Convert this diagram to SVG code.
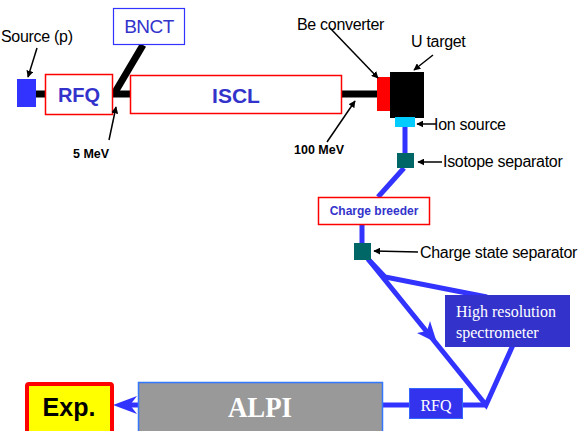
<svg xmlns="http://www.w3.org/2000/svg" width="583" height="431" viewBox="0 0 583 431">
<style>
.lbl{font-family:"Liberation Sans",Arial,sans-serif;font-size:16px;fill:#000;letter-spacing:-0.3px}
.mev{font-family:"Liberation Sans",Arial,sans-serif;font-size:12.5px;font-weight:bold;fill:#000}
.bt{font-family:"Liberation Sans",Arial,sans-serif;font-weight:bold;fill:#3333cc;text-anchor:middle}
.st{font-family:"Liberation Serif","Times New Roman",serif;fill:#fff}
.redbox{fill:#fff;stroke:#ff0000;stroke-width:1.5}
.beam{stroke:#000;stroke-width:7;fill:none}
.bl{stroke:#3333ff;stroke-width:5;fill:none;stroke-linejoin:miter}
.bah{fill:#3333ff}
.ptr{stroke:#000;stroke-width:1.5;fill:none;marker-end:url(#ah)}
.sep{fill:#006666}
</style>
<defs>
<marker id="ah" viewBox="0 0 10 10" refX="9" refY="5" markerWidth="7" markerHeight="7" markerUnits="userSpaceOnUse" orient="auto">
<path d="M0,0 L10,5 L0,10 Z" fill="#000"/>
</marker>
</defs>

<g id="connectors">
<line class="beam" x1="36" y1="94" x2="45" y2="94"/>
<line class="beam" x1="113" y1="94" x2="130" y2="94"/>
<line class="beam" x1="114" y1="94" x2="143" y2="45" stroke-width="6"/>
<line class="beam" x1="342" y1="94" x2="378" y2="94" stroke-width="8"/>
<line class="bl" x1="405" y1="126" x2="405" y2="153" stroke-width="4"/>
<line class="bl" x1="404" y1="168" x2="378" y2="197"/>
<line class="bl" x1="362" y1="225" x2="362" y2="243"/>
<polyline class="bl" points="368,259 385,277 487,297"/>
<polyline class="bl" points="368,259 486,405 513,345"/>
<polygon class="bah" points="437,343 417,333 427,331 430,321"/>
<line class="bl" x1="463" y1="405" x2="486" y2="405"/>
<line class="bl" x1="382" y1="405" x2="409" y2="405"/>
<line class="bl" x1="138" y1="405" x2="125" y2="405"/>
<polygon class="bah" points="113,405 137,396 130,405 137,414"/>
</g>

<g id="source">
<rect x="17" y="79" width="19" height="28" fill="#3333ff"/>
<text class="lbl" x="1" y="42">Source (p)</text>
<line class="ptr" x1="37" y1="48" x2="28" y2="77"/>
</g>

<g id="rfq1">
<rect class="redbox" x="45.5" y="74.5" width="67" height="40"/>
<text class="bt" x="79" y="102" font-size="20">RFQ</text>
<text class="mev" x="73" y="158">5 MeV</text>
<line class="ptr" x1="109" y1="140" x2="116" y2="107"/>
</g>

<g id="bnct">
<rect x="113.5" y="8.5" width="71" height="36" fill="#fff" stroke="#3333ff" stroke-width="1.2"/>
<text x="149" y="33" font-family="Liberation Sans,Arial,sans-serif" font-size="19" fill="#3333cc" text-anchor="middle" letter-spacing="-0.5">BNCT</text>
</g>

<g id="iscl">
<rect class="redbox" x="130.5" y="75.5" width="211" height="38"/>
<text class="bt" x="236" y="103" font-size="21">ISCL</text>
<text class="mev" x="294" y="154">100 MeV</text>
<line class="ptr" x1="327" y1="142" x2="355" y2="101"/>
</g>

<g id="be-converter">
<rect x="377" y="77" width="14" height="34" fill="#ff0000"/>
<text class="lbl" x="297" y="30">Be converter</text>
<line class="ptr" x1="330" y1="28" x2="378" y2="78"/>
</g>

<g id="u-target">
<rect x="390" y="72" width="34" height="46" fill="#000"/>
<text class="lbl" x="411" y="47">U target</text>
<line class="ptr" x1="433" y1="55" x2="414" y2="70"/>
</g>

<g id="ion-source">
<rect x="395" y="117" width="20" height="10" fill="#00ccff"/>
<line class="ptr" x1="436" y1="124" x2="417" y2="124"/>
<text class="lbl" x="434" y="130">Ion source</text>
</g>

<g id="isotope-separator">
<rect class="sep" x="397" y="153" width="17" height="15"/>
<line class="ptr" x1="442" y1="162" x2="418" y2="162"/>
<text class="lbl" x="443" y="167">Isotope separator</text>
</g>

<g id="charge-breeder">
<rect class="redbox" x="318.5" y="197.5" width="111" height="27"/>
<text class="bt" x="374" y="215" font-size="12">Charge breeder</text>
</g>

<g id="charge-state-separator">
<rect class="sep" x="354" y="243" width="17" height="17"/>
<line class="ptr" x1="418" y1="252" x2="374" y2="251"/>
<text class="lbl" x="420" y="258">Charge state separator</text>
</g>

<g id="hrs">
<rect x="445" y="295" width="125" height="52" fill="#3333cc"/>
<text class="st" x="456" y="317" font-size="16">High resolution</text>
<text class="st" x="456" y="338" font-size="16">spectrometer</text>
</g>

<g id="rfq2">
<rect x="409.5" y="388.5" width="53" height="30" fill="#3333ee" stroke="#3366ff" stroke-width="1"/>
<text class="st" x="436" y="411" font-size="16" text-anchor="middle">RFQ</text>
</g>

<g id="alpi">
<rect x="138.5" y="382.5" width="244" height="52" fill="#999999" stroke="#3377ff" stroke-width="1.5"/>
<text class="st" x="260" y="417" font-size="29" font-weight="bold" text-anchor="middle" textLength="64" lengthAdjust="spacingAndGlyphs">ALPI</text>
</g>

<g id="exp">
<rect x="27" y="384" width="85" height="50" fill="#ffff00" stroke="#ff0000" stroke-width="4" rx="2"/>
<text x="69" y="416" font-family="Liberation Sans,Arial,sans-serif" font-size="25" font-weight="bold" text-anchor="middle" fill="#000">Exp.</text>
</g>
</svg>
